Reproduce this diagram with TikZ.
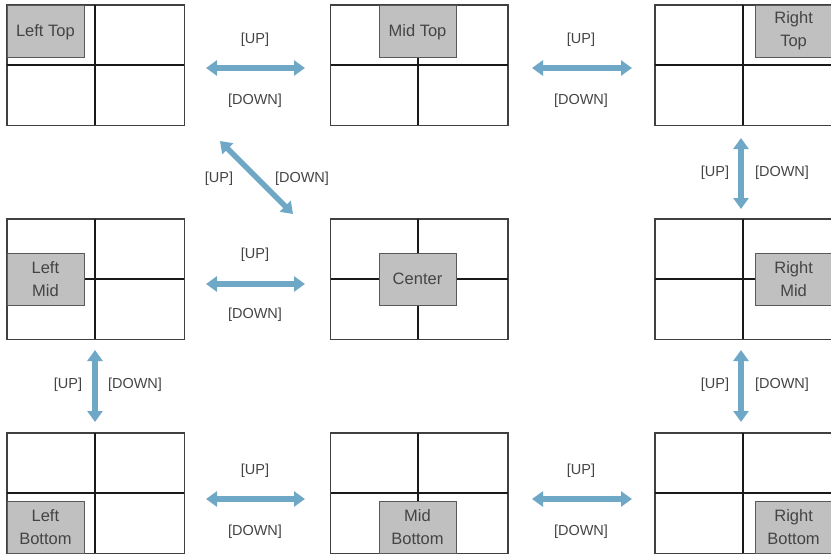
\documentclass[tikz,border=0pt]{standalone}
\usepackage{fontspec}
\setmainfont{Liberation Sans}
\usetikzlibrary{arrows.meta}
\definecolor{arrowc}{HTML}{6FA8C6}
\definecolor{boxc}{HTML}{C0C0C0}
\definecolor{txtc}{HTML}{444444}
\begin{document}
\begin{tikzpicture}[x=1pt,y=-1pt,
  panel/.style={draw=black!75, line width=1pt, minimum width=177pt, minimum height=120pt, inner sep=0pt, fill=white},
  divline/.style={draw=black!90, line width=2pt},
  lbl/.style={draw=black!65, line width=0.8pt, fill=boxc, minimum width=77pt, minimum height=52pt, inner sep=0pt, align=center, text=txtc, font=\fontsize{16.5}{22.5}\selectfont},
  onelbl/.style={lbl, text depth=0pt},
  arr/.style={draw=arrowc, line width=5.5pt, {Triangle[width=15pt,length=11pt]}-{Triangle[width=15pt,length=11pt]}},
  tag/.style={text=txtc, font=\fontsize{14.5}{16}\selectfont, inner sep=0pt}
]
\useasboundingbox (0,0) rectangle (831,555);
\clip (0,0) rectangle (831,555);

% panels
\foreach \n/\x/\y in {LT/95.5/65, MT/419/65, RT/743.5/65, LM/95.5/279, C/419/279, RM/743.5/279, LB/95.5/493, MB/419/493, RB/743.5/493}{
  \node[panel] (\n) at (\x,\y) {};
  \draw[divline] ([xshift=-1pt]\n.north) -- ([xshift=-1pt]\n.south);
  \draw[divline] (\n.west) -- (\n.east);
  \draw[draw=black!75, line width=1pt] (\n.north west) rectangle (\n.south east);
}

% grey labels
\node[onelbl, anchor=north west] (lLT) at (LT.north west) {Left Top};
\node[onelbl, anchor=north] (lMT) at ([xshift=-1.5pt]MT.north) {Mid Top};
\node[lbl, anchor=north east] (lRT) at (RT.north east) {Right\\Top};
\node[lbl, anchor=west] (lLM) at (LM.west) {Left\\Mid};
\node[onelbl] (lC) at ([xshift=-1.5pt]C.center) {Center};
\node[lbl, anchor=east] (lRM) at (RM.east) {Right\\Mid};
\node[lbl, anchor=south west] (lLB) at (LB.south west) {Left\\Bottom};
\node[lbl, anchor=south] (lMB) at ([xshift=-1.5pt]MB.south) {Mid\\Bottom};
\node[lbl, anchor=south east] (lRB) at (RB.south east) {Right\\Bottom};

% arrow end points
\coordinate (h1a) at (206,68);  \coordinate (h1b) at (305,68);
\coordinate (h2a) at (532,68);  \coordinate (h2b) at (632,68);
\coordinate (h3a) at (206,284); \coordinate (h3b) at (305,284);
\coordinate (h4a) at (206,499); \coordinate (h4b) at (305,499);
\coordinate (h5a) at (532,499); \coordinate (h5b) at (632,499);
\coordinate (v1a) at (741,138); \coordinate (v1b) at (741,209);
\coordinate (v2a) at (741,350); \coordinate (v2b) at (741,422);
\coordinate (v3a) at (95,350);  \coordinate (v3b) at (95,422);
\coordinate (d1a) at (220,141); \coordinate (d1b) at (293,214);

\foreach \a/\b in {h1a/h1b,h2a/h2b,h3a/h3b,h4a/h4b,h5a/h5b,v1a/v1b,v2a/v2b,v3a/v3b,d1a/d1b}
  \draw[arr] (\a) -- (\b);

% tags
\node[tag] (u1) at (255,40) {[UP]};   \node[tag] (d1) at (255,101) {[DOWN]};
\node[tag] (u2) at (581,40) {[UP]};   \node[tag] (d2) at (581,101) {[DOWN]};
\node[tag] (u3) at (255,255) {[UP]};  \node[tag] (d3) at (255,315) {[DOWN]};
\node[tag] (u4) at (255,471) {[UP]};  \node[tag] (d4) at (255,532) {[DOWN]};
\node[tag] (u5) at (581,471) {[UP]};  \node[tag] (d5) at (581,532) {[DOWN]};
\node[tag] (u6) at (715,173) {[UP]};  \node[tag] (d6) at (782,173) {[DOWN]};
\node[tag] (u7) at (715,385) {[UP]};  \node[tag] (d7) at (782,385) {[DOWN]};
\node[tag] (u8) at (68,385) {[UP]};   \node[tag] (d8) at (135,385) {[DOWN]};
\node[tag] (u9) at (219,179) {[UP]};  \node[tag] (d9) at (302,179) {[DOWN]};
\end{tikzpicture}
\end{document}
